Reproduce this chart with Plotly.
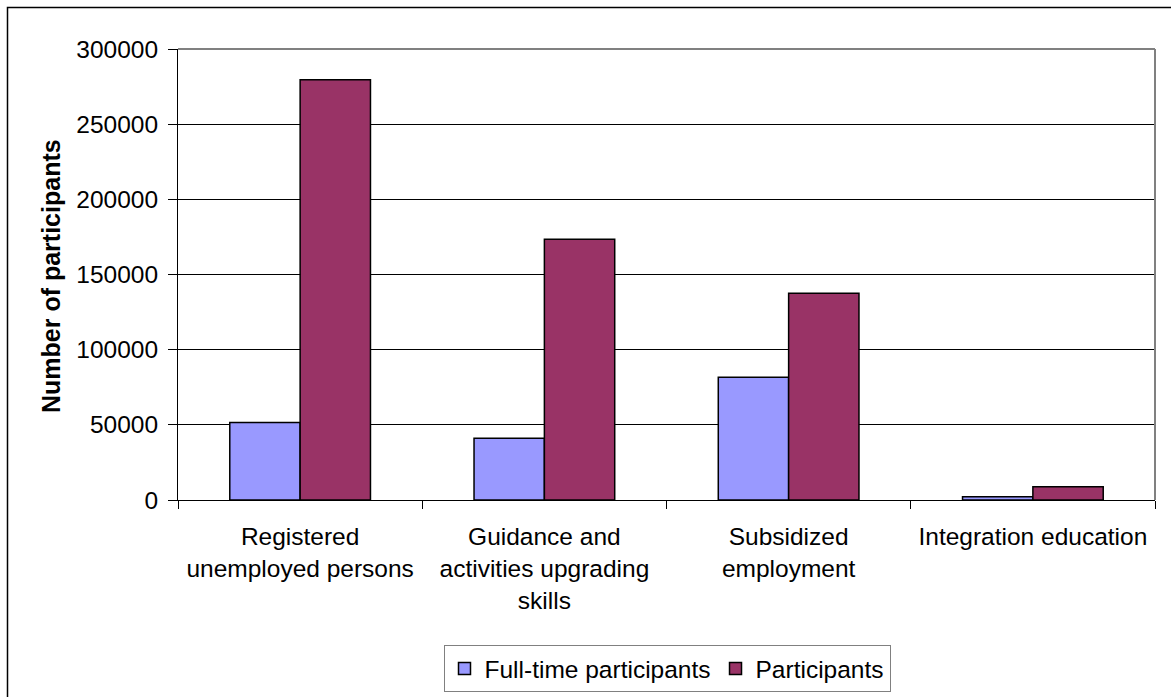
import plotly.graph_objects as go

categories = ["Registered<br>unemployed persons",
              "Guidance and<br>activities upgrading<br>skills",
              "Subsidized<br>employment",
              "Integration education"]
full_time = [51500, 41000, 81700, 2200]
participants = [279500, 173500, 137500, 8800]
series_names = ["Full-time participants", "Participants"]
y_ticks = [0, 50000, 100000, 150000, 200000, 250000, 300000]

W, H = 1171, 697
L, R, T, B = 178, 1155, 49, 500
pw, ph = R - L, B - T

FONT = "Liberation Sans, Arial, sans-serif"
FS = 24.5

fig = go.Figure()
fig.add_trace(go.Bar(x=categories, y=full_time, name=series_names[0],
                     marker=dict(color="#9999FF", line=dict(color="black", width=1.5))))
fig.add_trace(go.Bar(x=categories, y=participants, name=series_names[1],
                     marker=dict(color="#993366", line=dict(color="black", width=1.5))))

def px_x(x):
    return (x - L) / pw

def px_y(y):
    return (B - y) / ph

fig.update_layout(
    width=W, height=H,
    margin=dict(l=L, r=W - R, t=T, b=H - B, autoexpand=False),
    paper_bgcolor="white", plot_bgcolor="white",
    font=dict(family=FONT, size=FS, color="black"),
    barmode="group", bargap=0.424, bargroupgap=0,
    showlegend=True,
    legend=dict(orientation="h", x=px_x(667), xanchor="center", y=px_y(645), yanchor="top",
                bordercolor="#808080", borderwidth=1, font=dict(size=FS),
                itemwidth=30, tracegroupgap=0),
    xaxis=dict(showline=True, linecolor="black", linewidth=1,
               ticks="outside", tickson="boundaries", ticklen=8, tickcolor="black",
               showgrid=False, tickfont=dict(size=FS), tickangle=0,
               ticklabelstandoff=15),
    yaxis=dict(range=[0, 300000], tickvals=y_ticks, ticktext=[str(v) for v in y_ticks],
               showline=True, linecolor="black", linewidth=1,
               ticks="outside", ticklen=9, tickcolor="black",
               showgrid=True, gridcolor="black", gridwidth=1, zeroline=False,
               tickfont=dict(size=FS), ticklabelstandoff=5),
    shapes=[
        dict(type="line", xref="paper", yref="paper", x0=0, x1=1, y0=1, y1=1,
             line=dict(color="#808080", width=2)),
        dict(type="line", xref="paper", yref="paper", x0=1, x1=1, y0=0, y1=1,
             line=dict(color="#808080", width=2)),
        dict(type="rect", xref="paper", yref="paper",
             x0=px_x(7.5), x1=px_x(1200), y0=px_y(7.5), y1=px_y(720),
             line=dict(color="black", width=1.5), fillcolor="rgba(0,0,0,0)"),
    ],
    annotations=[
        dict(text="<b>Number of participants</b>", textangle=-90,
             xref="paper", yref="paper", x=px_x(51), y=px_y(276),
             xanchor="center", yanchor="middle", showarrow=False,
             font=dict(size=25, family=FONT)),
    ],
)

fig.write_html("out.html", config={"displayModeBar": False},
               post_script="document.body.style.margin='0px';")
